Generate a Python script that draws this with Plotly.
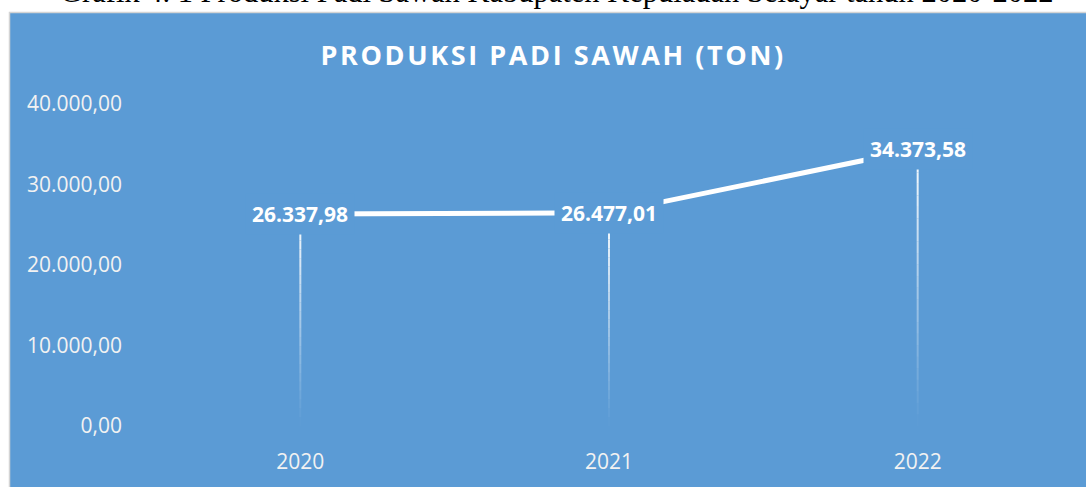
import plotly.graph_objects as go

# ---- data ----
years = ["2020", "2021", "2022"]
production = [26337.98, 26477.01, 34373.58]
production_labels = ["26.337,98", "26.477,01", "34.373,58"]
y_tick_values = [0, 10000, 20000, 30000, 40000]
y_tick_labels = ["0,00", "10.000,00", "20.000,00", "30.000,00", "40.000,00"]

title_text = "PRODUKSI PADI SAWAH (TON)"
caption_text = "Grafik 4. 1 Produksi Padi Sawah Kabupaten Kepulauan Selayar tahun 2020-2022"

BLUE = "#5B9BD5"
W, H = 1086, 487
ML, MR, MT, MB = 146, 14, 104, 54
PW = W - ML - MR
PH = H - MT - MB


def px_to_paper_x(px):
    return (px - ML) / PW


def px_to_paper_y(py):
    return (H - MB - py) / PH


xpos = list(range(len(years)))

fig = go.Figure()

# drop lines with a fading gradient (built from the data values)
N = 24
for i in range(N):
    xs, ys = [], []
    for xp, val in zip(xpos, production):
        top = val * (1 - i / N)
        bot = val * (1 - (i + 1) / N)
        xs += [xp, xp, None]
        ys += [top, bot, None]
    op = max(0.0, 1 - (i + 0.5) / N) ** 1.1
    fig.add_trace(go.Scatter(
        x=xs, y=ys, mode="lines",
        line=dict(color=f"rgba(255,255,255,{op:.3f})", width=2),
        hoverinfo="skip", showlegend=False,
    ))

# main line
fig.add_trace(go.Scatter(
    x=xpos, y=production, mode="lines",
    line=dict(color="white", width=5),
    showlegend=False,
))

# data labels
for xp, val, lab in zip(xpos, production, production_labels):
    fig.add_annotation(
        x=xp, y=val, xref="x", yref="y", text=lab, showarrow=False,
        font=dict(family="Open Sans", size=21, color="white", weight="bold"),
        bgcolor=BLUE, borderpad=6,
    )

# title
fig.add_annotation(
    x=px_to_paper_x(553), y=px_to_paper_y(53), xref="paper", yref="paper",
    text=title_text, showarrow=False, xanchor="center", yanchor="middle",
    font=dict(family="Open Sans", size=27, color="white", weight="bold"),
)

# caption (cut off at top, as in the source)
fig.add_annotation(
    x=px_to_paper_x(557), y=px_to_paper_y(-10), xref="paper", yref="paper",
    text=caption_text, showarrow=False, xanchor="center", yanchor="middle",
    font=dict(family="Liberation Serif", size=30.5, color="black"),
)

# panel background
fig.add_shape(
    type="rect", xref="paper", yref="paper", layer="below",
    x0=px_to_paper_x(9.5), x1=px_to_paper_x(1100),
    y0=px_to_paper_y(500), y1=px_to_paper_y(10.5),
    fillcolor=BLUE, line=dict(color="#D4D4D4", width=1.5),
)

fig.update_layout(
    width=W, height=H, autosize=False,
    margin=dict(l=ML, r=MR, t=MT, b=MB),
    paper_bgcolor="white",
    plot_bgcolor=BLUE,
    showlegend=False,
    xaxis=dict(
        range=[-0.5, len(years) - 0.5], tickvals=xpos, ticktext=years,
        showgrid=False, zeroline=False, showline=False,
        ticks="", tickfont=dict(family="Open Sans", size=21, color="#F2F2F2"),
        ticklabelstandoff=21,
    ),
    yaxis=dict(
        range=[0, 40000], tickvals=y_tick_values, ticktext=y_tick_labels,
        showgrid=False, zeroline=False, showline=False, ticks="",
        tickfont=dict(family="Open Sans", size=21, color="#F2F2F2"),
        ticklabelstandoff=23,
    ),
)

post = """
document.body.style.margin = '0';
document.body.style.overflow = 'hidden';
document.querySelectorAll('.annotation-text').forEach(function(t){
  if (t.textContent.indexOf('PRODUKSI PADI SAWAH') === 0) {
    t.setAttribute('letter-spacing', '2.6px');
  }
});
"""

fig.write_html("out.html", post_script=post,
               config={"displayModeBar": False, "responsive": False})
